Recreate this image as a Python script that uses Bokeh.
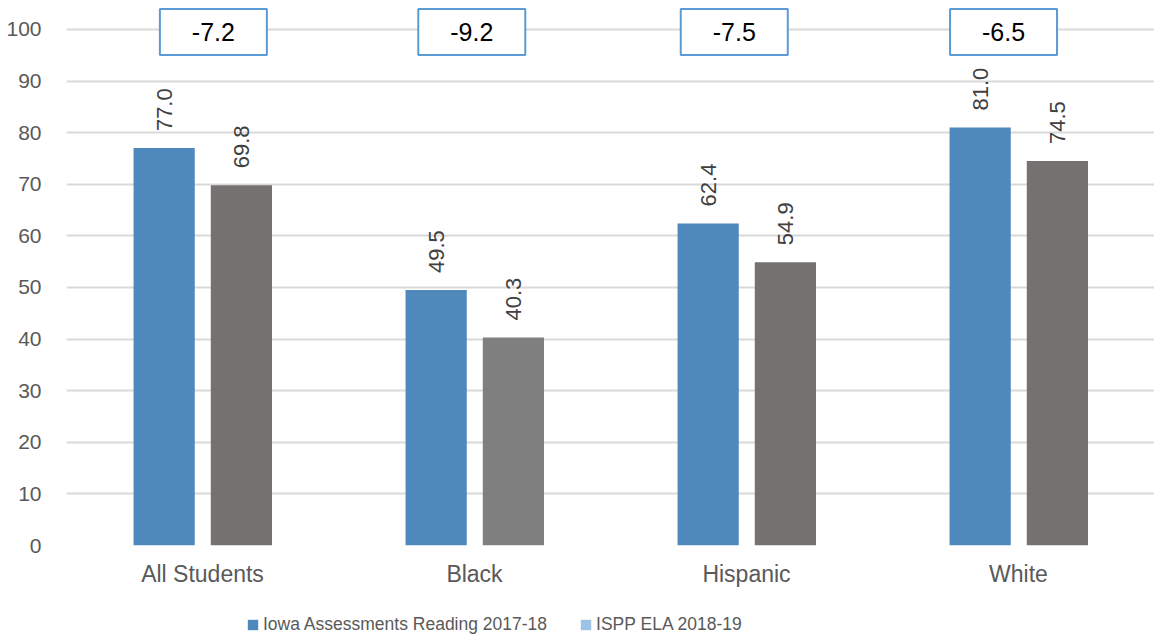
from bokeh.plotting import figure
from bokeh.layouts import column
from bokeh.models import (ColumnDataSource, FactorRange, Range1d, Legend, LegendItem,
                          SingleIntervalTicker)
from bokeh.transform import dodge
from bokeh.core.properties import value
from bokeh.embed import file_html
from bokeh.resources import INLINE

# Percent proficient by student group
groups = ["All Students", "Black", "Hispanic", "White"]
iowa_reading = [77.0, 49.5, 62.4, 81.0]
ispp_ela = [69.8, 40.3, 54.9, 74.5]
series_names = ["Iowa Assessments Reading 2017-18", "ISPP ELA 2018-19"]

# styling
BLUE = "#4F88BB"
ISPP_BAR_COLORS = ["#767171", "#7F7F7F", "#767171", "#767171"]
ISPP_LEGEND_COLOR = "#9DC3E6"
BOX_LINE = "#5B9BD5"
FONT = "Liberation Sans"
TEXT_GREY = "#595959"
BOX_SHIFT = [0.04, -0.01, -0.045, -0.055]  # horizontal nudge of the change boxes

change = [round(b - a, 1) for a, b in zip(iowa_reading, ispp_ela)]

src = ColumnDataSource(dict(
    group=groups,
    iowa=iowa_reading,
    ispp=ispp_ela,
    ispp_color=ISPP_BAR_COLORS,
    iowa_txt=[f"{v:.1f}" for v in iowa_reading],
    ispp_txt=[f"{v:.1f}" for v in ispp_ela],
))
box_src = ColumnDataSource(dict(
    x=[(g, s) for g, s in zip(groups, BOX_SHIFT)],
    y=[99.5] * len(groups),
    txt=[f"{c:.1f}" for c in change],
))

x_range = FactorRange(*groups, range_padding=0)
p = figure(x_range=x_range, y_range=Range1d(0, 105.6),
           width=1154, height=600,
           min_border_left=66, min_border_right=0, min_border_top=0, min_border_bottom=55,
           output_backend="svg", toolbar_location=None, background_fill_color="white",
           border_fill_color="white", outline_line_color=None)

bw = 0.225
p.vbar(x=dodge("group", -0.141, range=x_range), top="iowa", width=bw, source=src,
       fill_color=BLUE, line_color=None)
p.vbar(x=dodge("group", 0.143, range=x_range), top="ispp", width=bw, source=src,
       fill_color="ispp_color", line_color=None)

# rotated value labels above each bar
for col, off in (("iowa", -0.141), ("ispp", 0.143)):
    p.text(x=dodge("group", off, range=x_range), y=col, text=col + "_txt", source=src,
           angle=1.5708, text_align="left", text_baseline="middle", y_offset=-17,
           text_font=value(FONT), text_font_size="22px", text_color="#404040")

# change boxes
p.rect(x="x", y="y", width=107, height=46, width_units="screen", height_units="screen",
       source=box_src, fill_color="white", line_color=BOX_LINE, line_width=2)
p.text(x="x", y="y", text="txt", source=box_src, text_align="center", text_baseline="middle",
       text_font=value(FONT), text_font_size="25px", text_color="black")

# axes and grid
p.xgrid.grid_line_color = None
p.ygrid.grid_line_color = "#D9D9D9"
p.ygrid.grid_line_width = 2
p.yaxis.ticker = SingleIntervalTicker(interval=10)
p.ygrid.ticker = SingleIntervalTicker(interval=10)
for ax in (p.xaxis[0], p.yaxis[0]):
    ax.axis_line_color = None
    ax.major_tick_line_color = None
    ax.minor_tick_line_color = None
    ax.major_label_text_font = FONT
    ax.major_label_text_color = TEXT_GREY
p.yaxis.major_label_text_font_size = "21px"
p.yaxis.major_label_standoff = 19
p.xaxis.major_label_text_font_size = "23px"
p.xaxis.major_label_standoff = 9

# legend strip underneath the chart; its key glyphs are zero-height bars
key = figure(x_range=x_range, y_range=Range1d(0, 1), width=1154, height=42,
             min_border=0, output_backend="svg", toolbar_location=None,
             outline_line_color=None, background_fill_color="white",
             border_fill_color="white")
key.axis.visible = False
key.grid.visible = False
k_iowa = key.vbar(x=dodge("group", -0.141, range=x_range), top=0, bottom=0, width=bw,
                  source=src, fill_color=BLUE, line_color=None)
k_ispp = key.vbar(x=dodge("group", 0.143, range=x_range), top=0, bottom=0, width=bw,
                  source=src, fill_color=ISPP_LEGEND_COLOR, line_color=None)
legend = Legend(items=[LegendItem(label=series_names[0], renderers=[k_iowa]),
                       LegendItem(label=series_names[1], renderers=[k_ispp])],
                orientation="horizontal", location=(180, 7),
                label_text_font=FONT, label_text_font_size="17.5px", label_text_color=TEXT_GREY,
                glyph_width=13, glyph_height=13, label_standoff=4, spacing=32,
                border_line_color=None, background_fill_alpha=0, padding=4, margin=0)
key.add_layout(legend, "center")

open("out.html", "w").write(file_html(column(p, key, spacing=0), INLINE))
